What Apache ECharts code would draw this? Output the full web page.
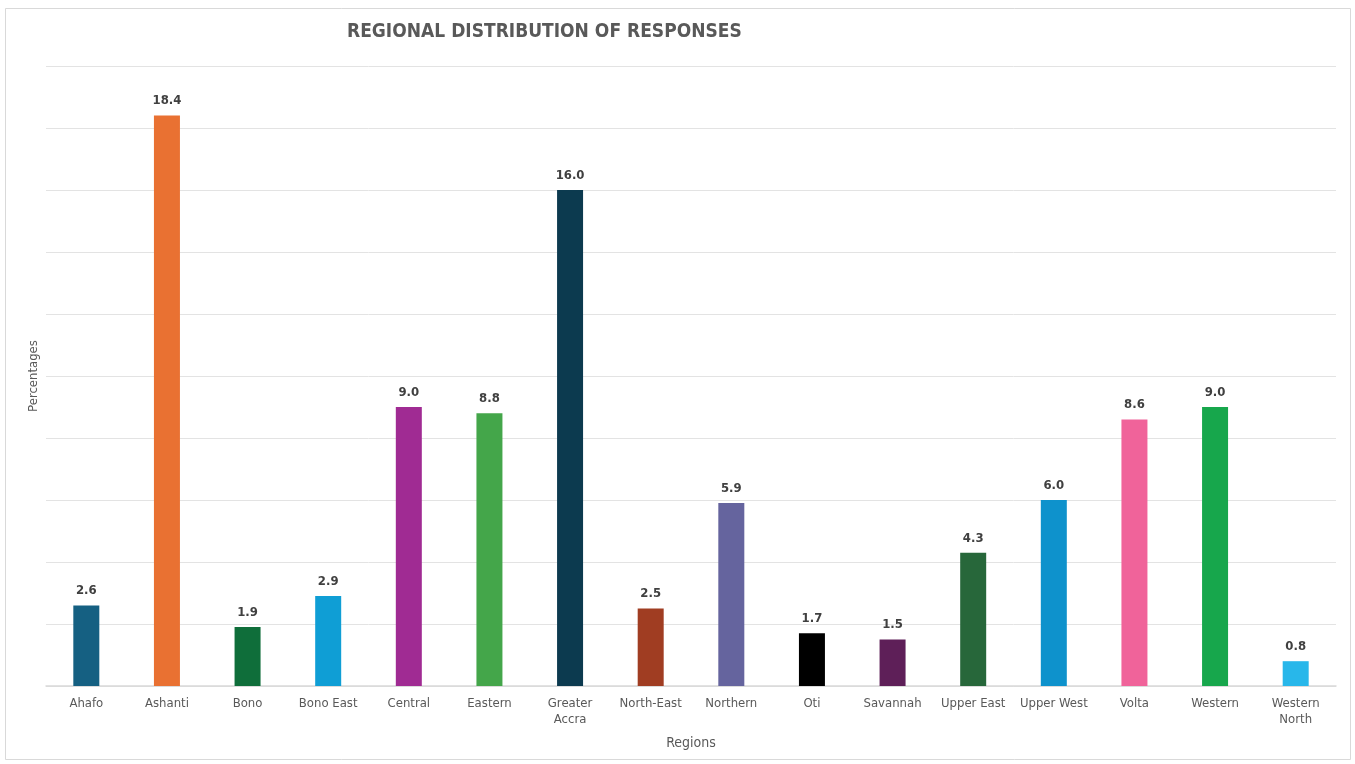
<!DOCTYPE html>
<html>
<head>
<meta charset="utf-8">
<script src="https://cdn.jsdelivr.net/npm/echarts@6/dist/echarts.min.js"></script>
<style>
  html, body { margin: 0; padding: 0; background: #fff; }
  #chart { width: 1355px; height: 764px; }
</style>
</head>
<body>
<div id="chart"></div>
<script>
// Regions of Ghana and the share of responses from each
const regions = ['Ahafo', 'Ashanti', 'Bono', 'Bono East', 'Central', 'Eastern', 'Greater\nAccra',
  'North-East', 'Northern', 'Oti', 'Savannah', 'Upper East', 'Upper West', 'Volta', 'Western', 'Western\nNorth'];
const percentages = [2.6, 18.4, 1.9, 2.9, 9.0, 8.8, 16.0, 2.5, 5.9, 1.7, 1.5, 4.3, 6.0, 8.6, 9.0, 0.8];
const barColors = ['#156082', '#E97132', '#0F6E3A', '#0F9ED5', '#A02B93', '#44A64A', '#0C3A4F',
  '#A03D22', '#65649E', '#000000', '#5E1F58', '#27673A', '#0E92CC', '#F0639A', '#17A74C', '#28B7EA'];

const FONT = '"Liberation Sans Narrow", "DejaVu Sans Condensed", "Liberation Sans", sans-serif';

const chart = echarts.init(document.getElementById('chart'));
chart.setOption({
  animation: false,
  backgroundColor: '#ffffff',
  graphic: [{
    type: 'rect',
    shape: { x: 5.5, y: 8.5, width: 1345, height: 751 },
    style: { fill: 'none', stroke: '#d9d9d9', lineWidth: 1 },
    silent: true
  }],
  title: {
    text: 'REGIONAL DISTRIBUTION OF RESPONSES',
    left: 342,
    top: 18,
    textStyle: { fontFamily: FONT, fontSize: 19, fontWeight: 'bold', color: '#595959' }
  },
  grid: { left: 46, right: 19, top: 66, bottom: 78 },
  xAxis: {
    type: 'category',
    data: regions,
    name: 'Regions',
    nameLocation: 'middle',
    nameGap: 50,
    nameTextStyle: { fontFamily: FONT, fontSize: 14, color: '#595959' },
    axisLine: { lineStyle: { color: '#d9d9d9', width: 1.5 } },
    axisTick: { show: false },
    axisLabel: { fontFamily: FONT, fontSize: 13, color: '#595959', margin: 10, lineHeight: 16, interval: 0 }
  },
  yAxis: {
    type: 'value',
    min: 0,
    max: 20,
    interval: 2,
    name: 'Percentages',
    nameLocation: 'middle',
    nameGap: 6,
    nameRotate: 90,
    nameTextStyle: { fontFamily: FONT, fontSize: 13, color: '#595959' },
    axisLabel: { show: false },
    axisLine: { show: false },
    axisTick: { show: false },
    splitLine: { lineStyle: { color: '#e3e3e3', width: 1 } }
  },
  series: [{
    type: 'bar',
    data: percentages.map((v, i) => ({ value: v, itemStyle: { color: barColors[i] } })),
    barWidth: 26,
    label: {
      show: true,
      position: 'top',
      distance: 8,
      formatter: p => p.value.toFixed(1),
      fontFamily: FONT,
      fontSize: 13,
      fontWeight: 'bold',
      color: '#404040'
    }
  }]
});
</script>
</body>
</html>
